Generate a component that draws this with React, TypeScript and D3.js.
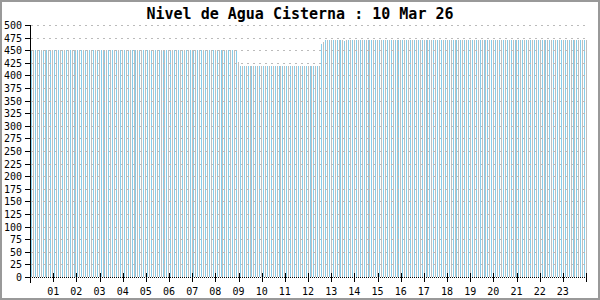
import React from "react";
import * as d3 from "d3";

// Water level readings every 5 minutes (288 readings), stored as runs
const levelValues = [450, 426, 418, 462, 467, 470, 468, 470];
const levelCounts = [107, 1, 42, 1, 1, 10, 1, 125];

const hourLabels = [
  "01", "02", "03", "04", "05", "06", "07", "08", "09", "10", "11", "12",
  "13", "14", "15", "16", "17", "18", "19", "20", "21", "22", "23",
];
const yTicks = d3.range(0, 501, 25);
const title = "Nivel de Agua Cisterna : 10 Mar 26";
const barColors = ["#BEBEBE", "#87CEEB"];

const W = 600;
const H = 300;
const left = 30;
const right = 586;
const top = 25;
const bottom = 277;
const barStart = 31.5;
const barSpan = 557;
const mono = "'DejaVu Sans Mono', 'Liberation Mono', monospace";

export default function App() {
  const data: number[] = [];
  levelValues.forEach((v, k) => {
    for (let j = 0; j < levelCounts[k]; j++) data.push(v);
  });
  const n = data.length;
  const x = d3.scaleLinear().domain([0, n]).range([barStart, barStart + barSpan]);
  const xHour = d3.scaleLinear().domain([0, 24]).range([left, right]);
  const y = d3.scaleLinear().domain([0, 500]).range([bottom, top]);

  return (
    <svg
      width={W}
      height={H}
      style={{ position: "absolute", left: 0, top: 0, display: "block", background: "#fff" }}
      shapeRendering="crispEdges"
    >
      <rect x={0} y={0} width={W} height={H} fill="#fff" />
      {/* bars */}
      {data.map((v, i) => (
        <rect
          key={i}
          x={Math.floor(x(i))}
          y={Math.round(y(v))}
          width={1}
          height={bottom - Math.round(y(v))}
          fill={barColors[(i + 1) % 2]}
        />
      ))}
      {/* grid lines */}
      {yTicks.filter((t) => t > 0).map((t) => (
        <line
          key={t}
          x1={left + 1}
          x2={right}
          y1={Math.round(y(t)) + 0.5}
          y2={Math.round(y(t)) + 0.5}
          stroke="#BBBBBB"
          strokeDasharray="2,4"
        />
      ))}
      {/* x axis dotted */}
      <line x1={left} x2={right} y1={bottom + 0.5} y2={bottom + 0.5} stroke="#000" strokeDasharray="1,1" />
      {/* y axis */}
      <line x1={left + 0.5} x2={left + 0.5} y1={top} y2={bottom + 6} stroke="#000" />
      {yTicks.map((t) => (
        <g key={t}>
          <line x1={left - 5} x2={left} y1={Math.round(y(t)) + 0.5} y2={Math.round(y(t)) + 0.5} stroke="#000" />
          <text
            x={left - 8}
            y={Math.round(y(t))}
            dy="0.35em"
            textAnchor="end"
            fontFamily={mono}
            fontSize={10}
            fill="#000"
          >
            {t}
          </text>
        </g>
      ))}
      {/* x ticks */}
      {d3.range(1, 25).map((h) => (
        <line
          key={h}
          x1={Math.round(xHour(h)) + 0.5}
          x2={Math.round(xHour(h)) + 0.5}
          y1={bottom - 4}
          y2={bottom + 5}
          stroke="#000"
        />
      ))}
      {hourLabels.map((lab, k) => (
        <text
          key={lab}
          x={xHour(k + 1)}
          y={295}
          textAnchor="middle"
          fontFamily={mono}
          fontSize={10}
          fill="#000"
        >
          {lab}
        </text>
      ))}
      {/* title */}
      <text
        x={W / 2}
        y={19}
        textAnchor="middle"
        fontFamily={mono}
        fontWeight="bold"
        fontSize={15}
        fill="#000"
      >
        {title}
      </text>
      {/* frame */}
      <rect x={1} y={1} width={W - 2} height={H - 2} fill="none" stroke="#999" strokeWidth={2} />
    </svg>
  );
}
